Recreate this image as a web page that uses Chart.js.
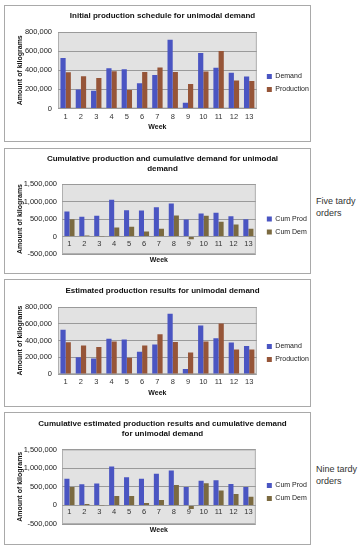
<!DOCTYPE html>
<html>
<head>
<meta charset="utf-8">
<script src="https://cdn.jsdelivr.net/npm/chart.js@4.4.1/dist/chart.umd.min.js"></script>
<style>
  body { margin: 0; width: 360px; height: 550px; background: #fff; position: relative; font-family: 'Liberation Sans', Arial, sans-serif; }
  .box { position: absolute; left: 4px; width: 305px; border: 1px solid #a9a9a9; background: #fff; }
  .box canvas { display: block; }
  .note { position: absolute; left: 316px; font-size: 9px; line-height: 12px; color: #333; white-space: nowrap; }
</style>
</head>
<body>
<div class="box" style="top:5px;height:135px"><canvas id="c1" width="305" height="135"></canvas></div>
<div class="box" style="top:148px;height:124px"><canvas id="c2" width="305" height="124"></canvas></div>
<div class="note" style="top:195px">Five tardy<br>orders</div>
<div class="box" style="top:279px;height:126px"><canvas id="c3" width="305" height="126"></canvas></div>
<div class="box" style="top:412px;height:131px"><canvas id="c4" width="305" height="131"></canvas></div>
<div class="note" style="top:463px">Nine tardy<br>orders</div>

<script>
const weeks = ['1','2','3','4','5','6','7','8','9','10','11','12','13'];

// weekly demand and production (kg)
const demand = [527000, 200000, 186000, 422000, 411000, 265000, 351000, 718000, 60000, 580000, 426000, 375000, 334000];
const initialProduction = [380000, 336000, 320000, 390000, 194000, 381000, 428000, 382000, 256000, 386000, 602000, 293000, 288000];
const estimatedProduction = [380000, 340000, 323000, 387000, 193000, 340000, 474000, 383000, 256000, 388000, 603000, 292000, 292000];

// cumulative (five tardy orders)
const cumProdFive = [714000, 562000, 590000, 1048000, 752000, 743000, 838000, 943000, 486000, 657000, 676000, 581000, 495000];
const cumDemFive = [495000, 29000, -8000, 257000, 276000, 143000, 219000, 600000, -76000, 590000, 419000, 343000, 219000];

// cumulative (nine tardy orders)
const cumProdNine = [712000, 568000, 586000, 1045000, 757000, 712000, 847000, 937000, 495000, 658000, 676000, 577000, 495000];
const cumDemNine = [495000, 36000, -9000, 252000, 252000, 63000, 144000, 550000, -99000, 595000, 396000, 306000, 234000];

const weeklyTicks = { min: 0, max: 800000, step: 200000 };
const cumTicks = { min: -500000, max: 1500000, step: 500000 };

const BLUE = '#4a55c2';
const BROWN = '#965538';
const OLIVE = '#7b6a40';
const FONT = "'Liberation Sans', Arial, sans-serif";

// gray plot background like excel
const plotBg = {
  id: 'plotBg',
  beforeDraw(chart) {
    const { ctx, chartArea: a } = chart;
    ctx.save();
    ctx.fillStyle = '#e2e2e2';
    ctx.fillRect(a.left, a.top, a.right - a.left, a.bottom - a.top);
    ctx.strokeStyle = '#b0b0b0';
    ctx.lineWidth = 1;
    ctx.strokeRect(a.left + 0.5, a.top + 0.5, a.right - a.left - 1, a.bottom - a.top - 1);
    ctx.restore();
  }
};

// L = layout sizes for one chart
function makeChart(id, title, names, series, colors, range, cumulative, L) {
  const weekTitle = { display: true, text: 'Week', color: '#111', padding: { top: 0, bottom: 0 }, font: { family: FONT, size: 7, weight: 'bold' } };
  const xAxis = {
    type: 'category',
    grid: { display: false, drawTicks: false },
    border: { display: false },
    ticks: { padding: L.xTickPad, autoSkip: false, maxRotation: 0, color: '#333', font: { family: FONT, size: 7.5 } },
    title: cumulative ? { display: false } : weekTitle,
    afterFit: s => { if (!cumulative) s.height = L.xHeight; }
  };
  if (cumulative) xAxis.position = { y: 0 };

  const scales = {
    x: xAxis,
    y: {
      min: range.min,
      max: range.max,
      grid: { color: '#9a9a9a', drawTicks: false },
      border: { display: false },
      ticks: {
        stepSize: range.step,
        padding: L.yTickPad,
        color: '#222',
        font: { family: FONT, size: 7.5 },
        callback: v => v.toLocaleString('en-US')
      },
      title: { display: true, text: 'Amount of kilograms', color: '#111', padding: { top: 1, bottom: 0 }, font: { family: FONT, size: 7, weight: 'bold' } },
      afterFit: s => { s.width = L.yWidth; }
    },
    // empty spacer between plot and legend
    gap: {
      type: 'linear', position: 'right', display: true,
      grid: { display: false }, border: { display: false }, ticks: { display: false },
      afterFit: s => { s.width = L.gap; }
    }
  };
  if (cumulative) {
    scales.week = {
      type: 'category',
      position: 'bottom',
      grid: { display: false, drawTicks: false },
      border: { display: false },
      ticks: { display: false },
      title: weekTitle,
      afterFit: s => { s.height = L.xHeight; }
    };
  }

  return new Chart(document.getElementById(id), {
    type: 'bar',
    data: {
      labels: weeks,
      datasets: series.map((d, i) => ({
        label: names[i],
        data: d,
        backgroundColor: colors[i],
        categoryPercentage: 0.68,
        barPercentage: 1,
        xAxisID: 'x'
      }))
    },
    options: {
      responsive: false,
      animation: false,
      devicePixelRatio: 1,
      layout: { padding: { top: L.top, left: 10, right: 0, bottom: L.bottom } },
      scales: scales,
      plugins: {
        title: { display: true, text: title, color: '#111', padding: { top: 0, bottom: L.titlePad }, font: { family: FONT, size: 8, weight: 'bold', lineHeight: 1.25 } },
        legend: {
          position: 'right',
          // blank legend title only pushes the entries down
          title: { display: true, text: '', padding: { top: L.legendDrop - 12, bottom: 0 }, font: { size: 10 } },
          labels: { boxWidth: 5, boxHeight: 5, padding: 6, color: '#222', font: { family: FONT, size: 7 } }
        },
        tooltip: { enabled: false }
      }
    },
    plugins: [plotBg]
  });
}

makeChart('c1', 'Initial production schedule for unimodal demand',
  ['Demand', 'Production'], [demand, initialProduction], [BLUE, BROWN], weeklyTicks, false,
  { top: 5, titlePad: 11, bottom: 10, gap: 4, legendDrop: 24, yWidth: 43, xHeight: 22.5, xTickPad: 4, yTickPad: 6 });

makeChart('c2', ['Cumulative production and cumulative demand for unimodal', 'demand'],
  ['Cum Prod', 'Cum Dem'], [cumProdFive, cumDemFive], [BLUE, OLIVE], cumTicks, true,
  { top: 5, titlePad: 10, bottom: 9, gap: 5, legendDrop: 33, yWidth: 47, xHeight: 10, xTickPad: 2.5, yTickPad: 5 });

makeChart('c3', 'Estimated production results for unimodal demand',
  ['Demand', 'Production'], [demand, estimatedProduction], [BLUE, BROWN], weeklyTicks, false,
  { top: 6, titlePad: 11, bottom: 9, gap: 4, legendDrop: 23, yWidth: 43, xHeight: 23, xTickPad: 3.5, yTickPad: 6 });

makeChart('c4', ['Cumulative estimated production results and cumulative demand', 'for unimodal demand'],
  ['Cum Prod', 'Cum Dem'], [cumProdNine, cumDemNine], [BLUE, OLIVE], cumTicks, true,
  { top: 6, titlePad: 10.5, bottom: 10, gap: 5, legendDrop: 31, yWidth: 47, xHeight: 10, xTickPad: 2.5, yTickPad: 5 });
</script>
</body>
</html>
